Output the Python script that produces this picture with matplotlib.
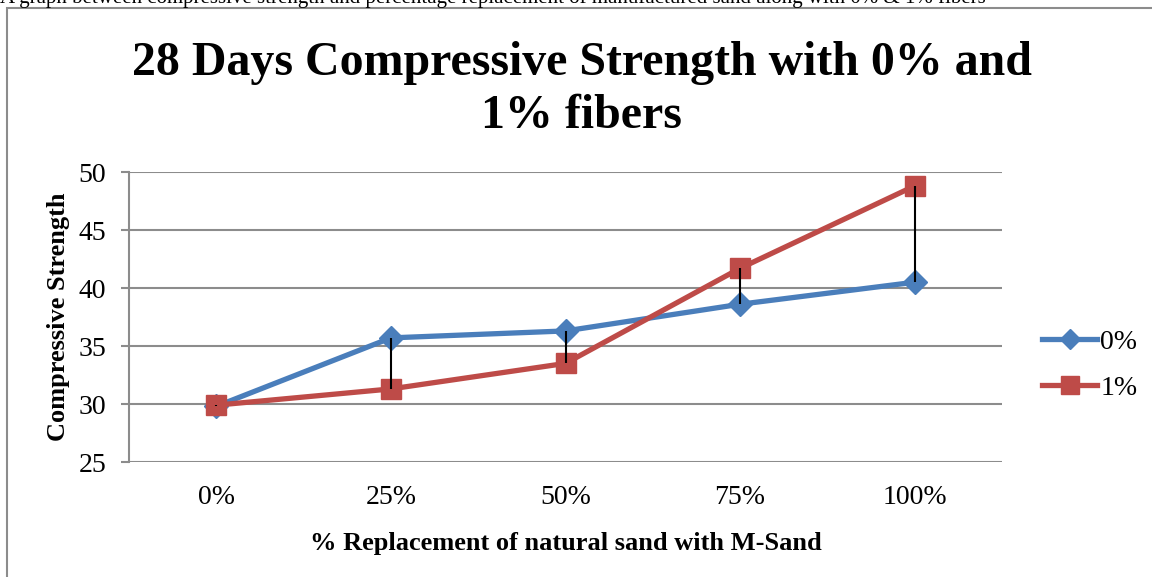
import matplotlib
matplotlib.use("Agg")
import matplotlib.pyplot as plt
from matplotlib.patches import Rectangle

categories = ["0%", "25%", "50%", "75%", "100%"]
fiber_0 = [29.8, 35.7, 36.3, 38.6, 40.5]
fiber_1 = [29.9, 31.3, 33.5, 41.7, 48.8]
series_names = ["0%", "1%"]
yticks = [25, 30, 35, 40, 45, 50]

plt.rcParams['font.family'] = ['Liberation Serif', 'DejaVu Serif']

fig = plt.figure(figsize=(11.52, 5.77), dpi=100)
fig.patch.set_facecolor('white')

# outer chart border (extends beyond image)
fig.patches.append(Rectangle((7/1152, -0.05), 1.2, 1 - 8/577 + 0.05,
                             transform=fig.transFigure, fill=False,
                             edgecolor='#8c8c8c', linewidth=1.5))
fig.text(0.0, 1 - 3/577, "A graph between compressive strength and percentage replacement of manufactured sand along with 0% & 1% fibers",
         ha='left', va='baseline', fontsize=15)

ax = fig.add_axes([129/1152, 1 - 462/577, 873/1152, 290/577])
x = list(range(len(categories)))

# high-low lines
ax.vlines(x, [min(a, b) for a, b in zip(fiber_0, fiber_1)],
          [max(a, b) for a, b in zip(fiber_0, fiber_1)],
          colors='black', linewidth=1.5, zorder=4)

ax.plot(x, fiber_0, color='#4a7ebb', linewidth=3.8, marker='D', markersize=12,
        markeredgecolor='#4a7ebb', label=series_names[0], zorder=3)
ax.plot(x, fiber_1, color='#be4b48', linewidth=3.8, marker='s', markersize=15,
        markeredgecolor='#be4b48', label=series_names[1], zorder=3)

ax.set_xlim(-0.5, len(categories) - 0.5)
ax.set_ylim(25, 50)
ax.set_yticks(yticks)
ax.set_xticks(x)
ax.set_xticklabels(categories)
ax.tick_params(axis='y', labelsize=20, length=5.5, color='#8c8c8c', width=1.5, pad=11)
ax.tick_params(axis='x', labelsize=20, length=0, pad=16.5)
ax.grid(axis='y', color='#8c8c8c', linewidth=1.5)
ax.set_axisbelow(True)
for s in ['top', 'right']:
    ax.spines[s].set_visible(False)
ax.spines['bottom'].set_visible(False)
ax.spines['left'].set_color('#8c8c8c')
ax.spines['left'].set_linewidth(1.5)

ax.set_xlabel("% Replacement of natural sand with M-Sand", fontsize=19,
              fontweight='bold', labelpad=16)
ax.set_ylabel("Compressive Strength", fontsize=19, fontweight='bold', labelpad=6)

fig.text(0.505, 0.845, "28 Days Compressive Strength with 0% and\n1% fibers",
         ha='center', va='center', fontsize=34.5, fontweight='bold', linespacing=1.24)

ax.legend(loc='center left', bbox_to_anchor=(1.017, 0.334), frameon=False,
          fontsize=20, handlelength=2.0, labelspacing=0.75, handletextpad=0.1,
          markerscale=0.85)

fig.savefig("out.png", dpi=100, facecolor='white')
